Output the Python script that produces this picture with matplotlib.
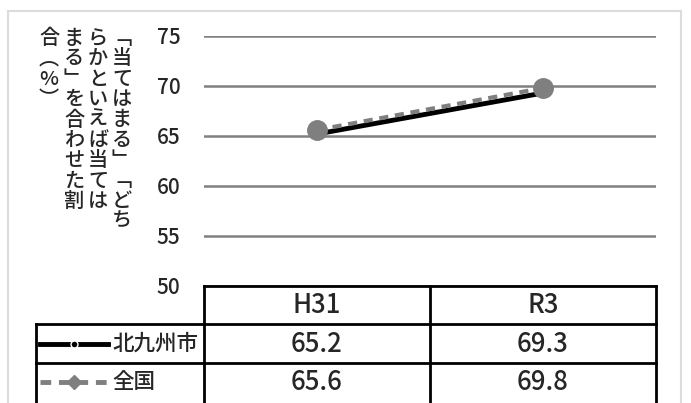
import matplotlib
matplotlib.use("Agg")
import matplotlib.pyplot as plt
from matplotlib.lines import Line2D
from matplotlib.patches import Rectangle

plt.rcParams['font.family'] = ['Noto Sans CJK JP', 'DejaVu Sans']
plt.rcParams['font.weight'] = 'medium'

# data
years = ["H31", "R3"]
kitakyushu = [65.2, 69.3]
national = [65.6, 69.8]
series_names = ["北九州市", "全国"]
yticks = [50, 55, 60, 65, 70, 75]
ylabel_cols = ["﹁当てはまる﹂﹁どち", "らかといえば当ては", "まる﹂を合わせた割", "合︵%︶"]

W, H = 691, 403
fig = plt.figure(figsize=(W / 100, H / 100), dpi=100)
txt = '#262626'

# outer frame
fig.patches.append(Rectangle((8 / W, -0.05), (681 - 8) / W, 1.05 - 11 / H,
                             transform=fig.transFigure, fill=False,
                             edgecolor='#dcdcdc', lw=1.5))

# main plot
ax = fig.add_axes([204 / W, (H - 286) / H, 452 / W, 250 / H])
x = list(range(len(years)))
ax.plot(x, kitakyushu, color='black', lw=3.5, marker='o', ms=4, zorder=3)
ax.plot(x, national, color='#7f7f7f', lw=3, ls=(0, (2.2, 1.6)),
        marker='o', ms=14, zorder=4)
ax.set_xlim(-0.5, len(years) - 0.5)
ax.set_ylim(50, 75)
ax.set_yticks(yticks)
ax.set_xticks([])
ax.yaxis.grid(True, color='#808080', lw=1.8)
ax.set_axisbelow(True)
for s in ax.spines.values():
    s.set_visible(False)
ax.tick_params(axis='y', length=0, pad=17, labelsize=15, labelcolor=txt)

# vertical y label
col_x = [122, 98, 74, 49]
for cx, s in zip(col_x, ylabel_cols):
    fig.text(cx / W, 1 - 29 / H, "\n".join(s), ha='center', va='top',
             fontsize=14.5, linespacing=1.09, color=txt)

# data table
tb = fig.add_axes([204 / W, 0, 452 / W, 117 / H])
tb.set_xlim(-0.5, len(years) - 0.5)
tb.set_ylim(3.05, 0)
tb.axis('off')
lab_left = -0.5 - 168 / 226
lk = dict(color='black', lw=2, clip_on=False)
tb.plot([-0.5, 1.5], [0, 0], **lk)
for r in (1, 2):
    tb.plot([lab_left, 1.5], [r, r], **lk)
tb.plot([lab_left, lab_left], [1, 3.05], **lk)
for c in (-0.5, 0.5, 1.5):
    tb.plot([c, c], [0, 3.05], **lk)

for i, yr in enumerate(years):
    tb.text(i, 0.52, yr, ha='center', va='center', fontsize=18.5, color=txt)
    tb.text(i, 1.52, f"{kitakyushu[i]:.1f}", ha='center', va='center',
            fontsize=18.5, color=txt)
    tb.text(i, 2.52, f"{national[i]:.1f}", ha='center', va='center',
            fontsize=18.5, color=txt)

key_x = [-1.226, -1.075, -0.925]
tb.add_line(Line2D(key_x, [1.5] * 3, color='black', lw=3.5, marker='o',
                   ms=5, mec='white', mew=1, markevery=[1], clip_on=False))
tb.add_line(Line2D(key_x, [2.5] * 3, color='#7f7f7f', lw=3.5,
                   ls=(0, (2.2, 1.6)), marker='D', ms=7, markevery=[1],
                   clip_on=False))
for r, name in enumerate(series_names):
    tb.text(-0.905, r + 1.5, name, ha='left', va='center', fontsize=15.5,
            color=txt)

fig.savefig("out.png", dpi=100)
